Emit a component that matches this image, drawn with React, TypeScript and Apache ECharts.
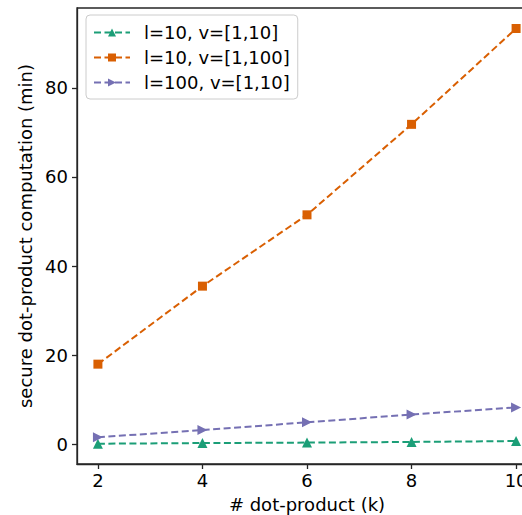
import React, { useEffect, useRef } from "react";
import * as echarts from "echarts";

const xValues = [2, 4, 6, 8, 10];
const seriesNames = ["l=10, v=[1,10]", "l=10, v=[1,100]", "l=100, v=[1,10]"];
const green = [0.15, 0.3, 0.4, 0.55, 0.75];
const orange = [18.0, 35.5, 51.5, 71.8, 93.3];
const purple = [1.6, 3.2, 4.95, 6.7, 8.3];
const xTicks = [2, 4, 6, 8, 10];
const yTicks = [0, 20, 40, 60, 80];

const colors = ["#1b9e77", "#d95f02", "#7570b3"];
const FONT = "DejaVu Sans";
const FS = 18;

export default function App() {
  const ref = useRef<HTMLDivElement>(null);
  useEffect(() => {
    if (!ref.current) return;
    const chart = echarts.init(ref.current, null, { renderer: "svg" });
    const mk = (i: number, data: number[], symbol: string, size: number, rot = 0) => ({
      name: seriesNames[i],
      type: "line",
      data: xValues.map((x, j) => [x, data[j]]),
      symbol,
      symbolSize: size,
      symbolRotate: rot,
      showSymbol: true,
      color: colors[i],
      lineStyle: { color: colors[i], width: 2, type: [7, 3.5] },
      itemStyle: { color: colors[i], borderWidth: 0 },
      emphasis: { disabled: true },
    });
    chart.setOption({
      animation: false,
      textStyle: { fontFamily: FONT },
      grid: {
        left: 77,
        top: 8,
        width: 460,
        height: 456,
        outerBoundsMode: "none",
        containLabel: false,
        show: true,
        borderColor: "#262626",
        borderWidth: 1.3,
        backgroundColor: "transparent",
      },
      legend: {
        left: 86,
        top: 15,
        orient: "vertical",
        padding: [7, 8, 6, 7],
        itemWidth: 36,
        itemHeight: 10,
        itemGap: 4,
        borderColor: "#cccccc",
        borderWidth: 1,
        borderRadius: 4,
        backgroundColor: "rgba(255,255,255,0.8)",
        textStyle: { fontFamily: FONT, fontSize: FS, color: "#000", lineHeight: 21, padding: [0, 0, 0, 9] },
        data: seriesNames,
      },
      xAxis: {
        type: "value",
        min: 1.6,
        max: 10.4,
        name: "# dot-product (k)",
        nameLocation: "middle",
        nameGap: 31,
        nameTextStyle: { fontFamily: FONT, fontSize: FS, color: "#000" },
        axisLine: { show: true, onZero: false, lineStyle: { color: "#262626", width: 1.3 } },
        axisTick: { show: true, length: 5, customValues: xTicks, lineStyle: { color: "#262626", width: 1.3 } },
        axisLabel: { customValues: xTicks, fontFamily: FONT, fontSize: FS, color: "#000", margin: 7 },
        splitLine: { show: false },
      },
      yAxis: {
        type: "value",
        min: -4.4,
        max: 97.9,
        name: "secure dot-product computation (min)",
        nameLocation: "middle",
        nameGap: 34,
        nameTextStyle: { fontFamily: FONT, fontSize: FS, color: "#000" },
        axisLine: { show: true, onZero: false, lineStyle: { color: "#262626", width: 1.3 } },
        axisTick: { show: true, length: 5, customValues: yTicks, lineStyle: { color: "#262626", width: 1.3 } },
        axisLabel: { customValues: yTicks, fontFamily: FONT, fontSize: FS, color: "#000", margin: 9 },
        splitLine: { show: false },
      },
      series: [
        mk(0, green, "triangle", 10),
        mk(1, orange, "rect", 9),
        mk(2, purple, "triangle", 10, -90),
      ],
    });
    return () => chart.dispose();
  }, []);
  return (
    <div
      ref={ref}
      style={{ position: "fixed", left: 0, top: 0, width: 522, height: 515, background: "#fff" }}
    />
  );
}
